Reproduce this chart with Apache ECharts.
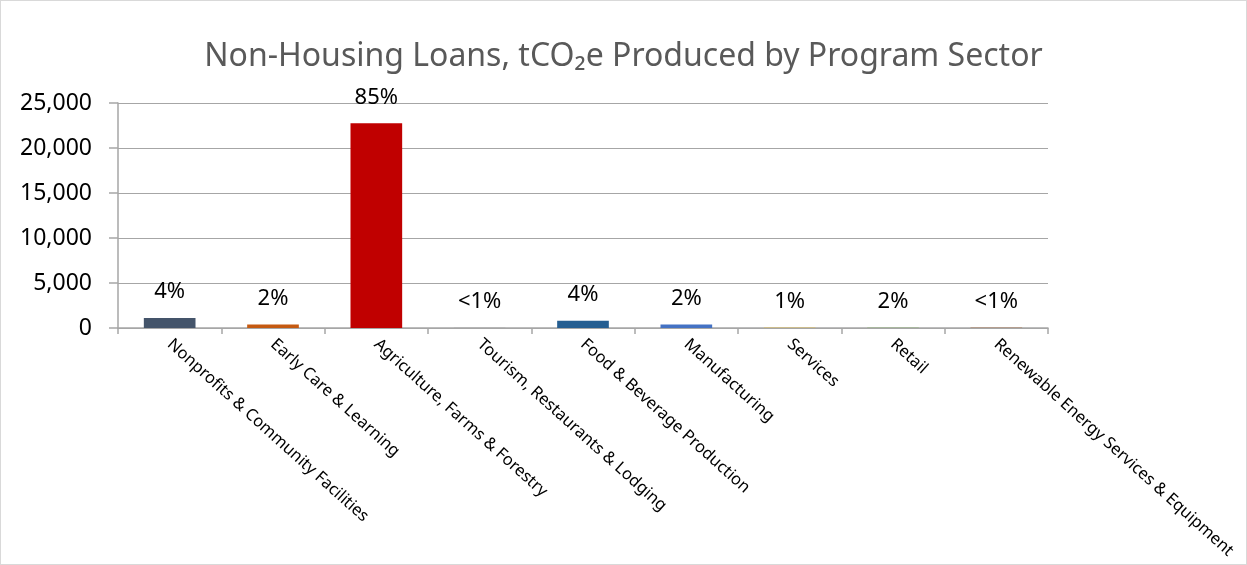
<!DOCTYPE html>
<html>
<head>
<meta charset="utf-8">
<script src="https://cdn.jsdelivr.net/npm/echarts@6/dist/echarts.min.js"></script>
<style>
html,body{margin:0;padding:0;background:#fff;}
#chart{width:1245px;height:563px;border:1px solid #d9d9d9;}
</style>
</head>
<body>
<div id="chart"></div>
<script>
const categories = [
  "Nonprofits & Community Facilities",
  "Early Care & Learning",
  "Agriculture, Farms & Forestry",
  "Tourism, Restaurants & Lodging",
  "Food & Beverage Production",
  "Manufacturing",
  "Services",
  "Retail",
  "Renewable Energy Services & Equipment"
];
const values = [1100, 380, 22750, 20, 800, 400, 20, 20, 15];
const shareLabels = ["4%", "2%", "85%", "<1%", "4%", "2%", "1%", "2%", "<1%"];
const barColors = ["#44546A", "#C55A11", "#C00000", "#A5A5A5", "#255E91", "#4472C4", "#FFC000", "#70AD47", "#9E480E"];
const yTicks = { min: 0, max: 25000, interval: 5000 };

const chart = echarts.init(document.getElementById('chart'));
const FONT = 'Noto Sans';
chart.setOption({
  animation: false,
  title: {
    text: 'Non-Housing Loans, tCO\u2082e Produced by Program Sector',
    left: 'center',
    top: 35,
    textStyle: { fontFamily: FONT, fontSize: 32, fontWeight: 'normal', color: '#595959' }
  },
  grid: { left: 117, right: 198, top: 102, bottom: 236, containLabel: false },
  xAxis: {
    type: 'category',
    data: categories,
    axisLine: { lineStyle: { color: '#a6a6a6', width: 1.5 } },
    axisTick: { show: true, alignWithLabel: false, length: 6, lineStyle: { color: '#a6a6a6', width: 1.5 } },
    axisLabel: {
      rotate: -42, interval: 0, margin: 14,
      fontFamily: FONT, fontSize: 16.5, color: '#000'
    }
  },
  yAxis: {
    type: 'value',
    min: yTicks.min, max: yTicks.max, interval: yTicks.interval,
    axisLine: { show: true, lineStyle: { color: '#a6a6a6', width: 1.5 } },
    axisTick: { show: true, length: 9, lineStyle: { color: '#a6a6a6', width: 1.5 } },
    splitLine: { lineStyle: { color: '#a6a6a6', width: 1.2 } },
    axisLabel: {
      margin: 26,
      fontFamily: FONT, fontSize: 23, color: '#000',
      formatter: v => v.toLocaleString('en-US')
    }
  },
  series: [{
    type: 'bar',
    barWidth: '50%',
    data: values.map((v, i) => ({ value: v, itemStyle: { color: barColors[i] } })),
    label: {
      show: true, position: 'top', distance: 15,
      fontFamily: FONT, fontSize: 22, color: '#000',
      formatter: p => shareLabels[p.dataIndex]
    }
  }]
});
</script>
</body>
</html>
